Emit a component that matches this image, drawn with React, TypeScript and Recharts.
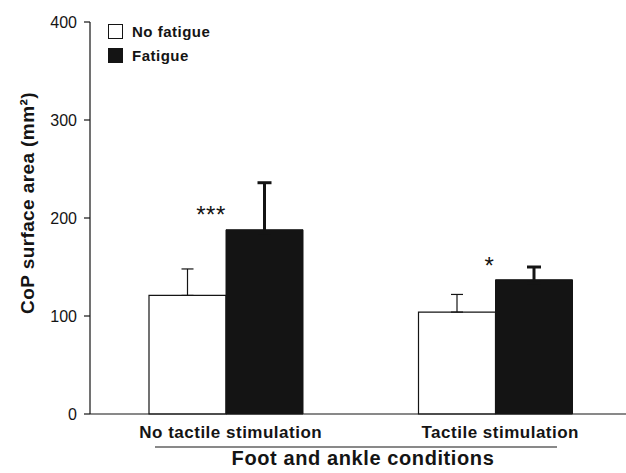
import React from 'react';
import { BarChart, Bar, XAxis, YAxis, ErrorBar, LabelList } from 'recharts';

const categories = ['No tactile stimulation', 'Tactile stimulation'];
const noFatigue = [121, 104];
const noFatigueErr = [27, 18];
const fatigue = [188, 137];
const fatigueErr = [48, 13];
const sigLabels = ['***', '*'];
const sigLevels = [195, 143];
const yTicks = [0, 100, 200, 300, 400];
const seriesNames = ['No fatigue', 'Fatigue'];

const FONT = '"Liberation Sans", Arial, Helvetica, sans-serif';
const INK = '#141414';

// error bars only go up; the black bar's lower cap is tucked inside the bar
const data = categories.map((name, i) => ({
  name,
  noFatigue: noFatigue[i],
  noFatigueErr: [0, noFatigueErr[i]],
  fatigue: fatigue[i],
  fatigueErr: [3, fatigueErr[i]],
}));

// star nudges, relative to the left edge of the black bar
const starDx = [-15, -6];

const renderStar = (props: any) => {
  const { index } = props;
  const vb = props.viewBox || props;
  const { x, y, height } = vb;
  const value = fatigue[index];
  const bottom = y + height;
  const starY = bottom - (sigLevels[index] * height) / value;
  return (
    <text
      x={x + starDx[index]}
      y={starY}
      textAnchor="middle"
      fontFamily={FONT}
      fontSize={24}
      letterSpacing={0.5}
      fill={INK}
    >
      {sigLabels[index]}
    </text>
  );
};

const CategoryTick = (props: any) => {
  const { x, y, payload } = props;
  return (
    <text
      x={x + 5}
      y={y + 22}
      textAnchor="middle"
      fontFamily={FONT}
      fontSize={17}
      fontWeight="bold"
      letterSpacing={0.5}
      fill={INK}
    >
      {payload.value}
    </text>
  );
};

const renderXTitle = (props: any) => {
  const { x, y } = props.viewBox;
  return (
    <g>
      <line x1={x + 65} x2={x + 467} y1={y + 33} y2={y + 33} stroke={INK} strokeWidth={1.2} />
      <text
        x={x + 273}
        y={y + 51}
        textAnchor="middle"
        fontFamily={FONT}
        fontSize={20}
        fontWeight="bold"
        letterSpacing={0.6}
        fill={INK}
      >
        Foot and ankle conditions
      </text>
    </g>
  );
};

const renderYTitle = (props: any) => {
  const { y, height } = props.viewBox;
  const cy = y + height / 2 - 15;
  return (
    <text
      x={34}
      y={cy}
      transform={`rotate(-90, 34, ${cy})`}
      textAnchor="middle"
      fontFamily={FONT}
      fontSize={19}
      fontWeight="bold"
      letterSpacing={0.4}
      fill={INK}
    >
      CoP surface area (mm²)
    </text>
  );
};

const LegendBox = () => (
  <div
    style={{
      position: 'absolute',
      left: 108,
      top: 20,
      fontFamily: FONT,
      fontSize: 15,
      fontWeight: 'bold',
      letterSpacing: 0.5,
      color: INK,
    }}
  >
    {seriesNames.map((n, i) => (
      <div key={n} style={{ display: 'flex', alignItems: 'center', height: 23.5 }}>
        <div
          style={{
            width: 13,
            height: 13,
            border: `1px solid ${INK}`,
            background: i === 0 ? '#fff' : INK,
            marginRight: 9,
          }}
        />
        <span>{n}</span>
      </div>
    ))}
  </div>
);

export default function App() {
  return (
    <div style={{ position: 'absolute', left: 0, top: 0, width: 626, height: 473, background: '#fff' }}>
      <BarChart
        width={626}
        height={473}
        data={data}
        margin={{ top: 22, right: 0, bottom: 0, left: 0 }}
        barGap={0}
        barSize={77}
      >
        <XAxis
          dataKey="name"
          height={59}
          padding={{ left: 1, right: -4 }}
          tickLine={false}
          tickSize={0}
          stroke={INK}
          strokeWidth={1.2}
          tick={<CategoryTick />}
          interval={0}
          label={{ content: renderXTitle }}
        />
        <YAxis
          width={90}
          domain={[0, 400]}
          ticks={yTicks}
          tickSize={6}
          tickMargin={7}
          stroke={INK}
          strokeWidth={1.2}
          tick={{ fill: INK, fontSize: 16, fontFamily: FONT }}
          label={{ content: renderYTitle }}
        />
        <Bar dataKey="noFatigue" name={seriesNames[0]} fill="#fff" stroke={INK} strokeWidth={1.2} isAnimationActive={false}>
          <ErrorBar dataKey="noFatigueErr" width={6} stroke={INK} strokeWidth={1.2} direction="y" />
        </Bar>
        <Bar dataKey="fatigue" name={seriesNames[1]} fill={INK} stroke={INK} strokeWidth={1} isAnimationActive={false}>
          <ErrorBar dataKey="fatigueErr" width={7} stroke={INK} strokeWidth={3} direction="y" />
          <LabelList dataKey="fatigue" content={renderStar} />
        </Bar>
      </BarChart>
      <LegendBox />
    </div>
  );
}
